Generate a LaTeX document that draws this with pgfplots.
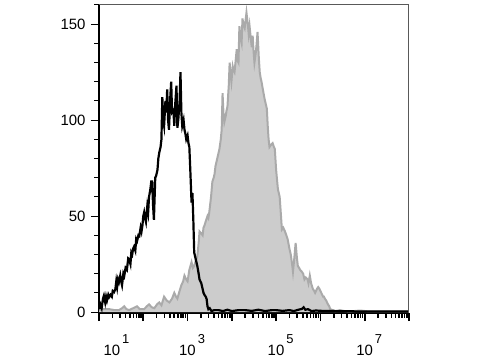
\documentclass[border=0pt]{standalone}
\usepackage{pgfplots}
\pgfplotsset{compat=1.18}
\usepackage{pgfplotstable}
\usepackage{fontspec}
\setmainfont{Liberation Sans}
\definecolor{grayfill}{HTML}{CCCCCC}
\definecolor{grayline}{HTML}{AAAAAA}
\newcommand{\pw}[1]{10\hspace{2bp}\raisebox{12bp}{\fontsize{13}{13}\selectfont #1}}
\pgfplotstableread{
x y
1.00 1.5
1.03 4
1.06 2
1.09 7
1.11 8.5
1.14 5
1.16 8
1.18 6
1.21 9
1.23 7.8
1.26 9
1.29 8
1.31 11
1.34 10.4
1.37 12
1.39 16
1.41 13
1.43 17
1.45 15.6
1.48 19
1.50 16
1.52 14
1.55 20
1.57 18.8
1.60 23
1.63 22
1.66 28
1.68 27.6
1.71 25
1.73 31
1.75 30
1.77 33
1.79 34
1.82 32
1.84 38
1.86 37
1.89 40
1.91 39.6
1.94 44
1.96 42
1.98 45
2.00 50
2.02 52
2.04 49
2.06 47
2.09 55
2.11 52
2.13 60
2.16 64
2.18 68
2.20 68
2.22 56
2.24 48
2.27 70
2.29 71
2.32 74
2.34 80
2.36 83
2.39 86
2.41 90
2.43 112
2.45 100
2.47 97
2.50 110
2.52 104
2.54 116
2.56 100
2.58 95
2.61 112
2.63 120
2.65 104
2.68 105
2.70 97
2.72 108
2.75 118
2.77 96
2.79 100
2.82 110
2.84 125
2.86 104
2.88 97
2.91 100
2.93 95
2.95 93
2.97 90
3.00 92
3.02 88
3.04 86
3.06 75
3.09 57
3.11 62
3.13 48
3.15 31
3.18 28
3.20 26
3.22 24
3.25 20
3.27 17
3.29 16
3.31 15
3.34 12
3.36 10
3.38 9
3.41 8
3.43 6.8
3.45 3
3.47 1.5
3.50 2
3.54 0.5
3.60 1
3.70 1
3.80 0.5
3.90 1.2
4.00 0.5
4.15 1
4.30 1
4.45 0.6
4.60 1.2
4.75 0.5
4.90 1
5.00 1
5.15 0.6
5.30 1
5.40 0.5
5.50 1.2
5.58 1.6
5.62 2.5
5.66 1.2
5.72 1.5
5.80 0.5
5.90 0.8
6.10 0.5
6.30 0.5
6.60 0.4
7.00 0.3
7.50 0.3
8.00 0.3
}\blacktab
\pgfplotstableread{
x y
1.00 1
1.10 1.5
1.23 1.5
1.35 1
1.45 1
1.52 2
1.57 3
1.62 1.5
1.68 1
1.77 2
1.86 3
1.92 1.5
2.02 1.5
2.08 3
2.13 4
2.19 2.5
2.25 2
2.31 4
2.36 5
2.41 3.5
2.47 8
2.53 6
2.59 5
2.65 7
2.70 10
2.74 8
2.77 7
2.82 11
2.86 14
2.90 16
2.93 19
2.97 17
3.00 16
3.04 22
3.09 26
3.12 23
3.15 24
3.19 27
3.22 29
3.25 36
3.27 42
3.31 41
3.34 40
3.36 44
3.38 45
3.42 48
3.45 50
3.47 49
3.49 52
3.53 60
3.56 68
3.59 70
3.61 72
3.63 76
3.65 78
3.69 82
3.72 85
3.75 90
3.77 95
3.79 114
3.81 104
3.83 99
3.86 102
3.88 105
3.90 107
3.93 118
3.95 130
3.97 124
3.99 120
4.02 128
4.04 126
4.06 125
4.09 132
4.11 137
4.13 131
4.15 130
4.17 149
4.20 142
4.22 140
4.24 153
4.26 150
4.29 148
4.31 152
4.33 156
4.36 150
4.38 145
4.40 149
4.43 142
4.45 138
4.47 144
4.49 136
4.51 130
4.54 135
4.56 140
4.58 146
4.61 132
4.63 125
4.65 122
4.67 120
4.70 116
4.74 111
4.77 108
4.79 106
4.81 97
4.83 90
4.85 86
4.88 87
4.92 88
4.95 86
4.97 85
5.00 74
5.04 64
5.06 62
5.08 60
5.11 50
5.13 43
5.16 44
5.20 42
5.23 40
5.26 38
5.30 33
5.33 30
5.36 25
5.38 21
5.41 28
5.44 36
5.47 28
5.49 24
5.52 23
5.54 22
5.58 21
5.61 20
5.64 17
5.67 18
5.71 17
5.73 15
5.76 19
5.79 15
5.83 12
5.86 11
5.88 10
5.92 12
5.95 13
5.98 12
6.02 10
6.06 8
6.08 8
6.10 7
6.13 6
6.17 4
6.20 3
6.22 1.5
6.28 1
6.33 0.5
6.40 0.8
6.44 1
6.55 0.5
6.67 0.3
6.80 0.6
6.90 0.8
7.05 0.4
7.35 0.3
7.70 0.3
8.00 0.3
}\graytab
\begin{document}
\begin{tikzpicture}
\useasboundingbox (-99bp,-47bp) rectangle (381bp,313bp);
\begin{axis}[
  name=ax,
  at={(0,0)}, anchor=south west,
  scale only axis,
  width=310bp, height=308bp,
  xmin=1, xmax=8, ymin=-0.5, ymax=160,
  axis x line*=bottom, axis y line*=left,
  axis line style={black, line width=1.8bp},
  tick align=outside,
  major tick length=8bp, minor tick length=4.5bp,
  tick style={black, line width=1bp},
  xtick style={line width=1.6bp},
  xtick={1,2,3,4,5,6,7,8},
  xticklabels={\hspace*{26bp}\pw{1},,\pw{3},,\pw{5},,\pw{7},},
  minor xtick={1.301,1.477,1.602,1.699,1.778,1.845,1.903,1.954,
    2.301,2.477,2.602,2.699,2.778,2.845,2.903,2.954,
    3.301,3.477,3.602,3.699,3.778,3.845,3.903,3.954,
    4.301,4.477,4.602,4.699,4.778,4.845,4.903,4.954,
    5.301,5.477,5.602,5.699,5.778,5.845,5.903,5.954,
    6.301,6.477,6.602,6.699,6.778,6.845,6.903,6.954,
    7.301,7.477,7.602,7.699,7.778,7.845,7.903,7.954},
  ytick={0,50,100,150},
  minor ytick={10,20,30,40,60,70,80,90,110,120,130,140,160},
  xticklabel style={font=\fontsize{15}{16}\selectfont, yshift=-10bp, xshift=4.5bp},
  yticklabel style={font=\fontsize{15}{16}\selectfont, xshift=-2bp},
  /pgf/number format/assume math mode=true,
]
\addplot[fill=grayfill, draw=none] table[x=x,y=y] {\graytab} \closedcycle;
\addplot[color=grayline, line width=2bp] table[x=x,y=y] {\graytab};
\addplot[color=black, line width=2.2bp] table[x=x,y=y] {\blacktab};
\end{axis}
\draw[gray!70!black, line width=1bp] (ax.north west) -- (ax.north east) -- (ax.south east);
\end{tikzpicture}
\end{document}
